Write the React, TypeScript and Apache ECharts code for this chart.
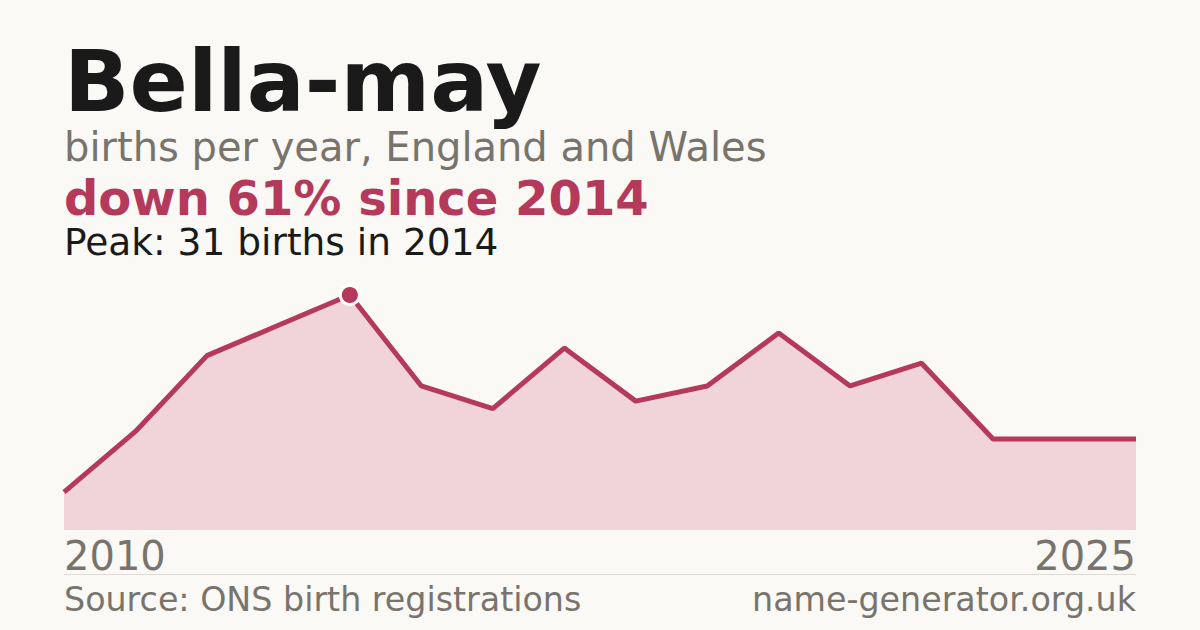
import * as echarts from 'echarts';
import { useEffect, useRef } from 'react';

const years = ['2010', '2011', '2012', '2013', '2014', '2015', '2016', '2017', '2018', '2019', '2020', '2021', '2022', '2023', '2024', '2025'];
const births = [5, 13, 23, 27, 31, 19, 16, 24, 17, 19, 26, 19, 22, 12, 12, 12];

const name = 'Bella-may';
const subtitle = 'births per year, England and Wales';
const source = 'Source: ONS birth registrations';
const site = 'name-generator.org.uk';

const RED = '#b5395a';
const GREY = '#78746d';
const INK = '#1a1a1a';
const FONT = '"DejaVu Sans", sans-serif';

export default function App() {
  const chartRef = useRef<HTMLDivElement>(null);

  useEffect(() => {
    if (!chartRef.current) return;
    const chart = echarts.init(chartRef.current, null, { renderer: 'svg' });

    const peakIdx = births.indexOf(Math.max(...births));
    const peakYear = years[peakIdx];
    const peakVal = births[peakIdx];
    const last = births[births.length - 1];
    const drop = Math.round((1 - last / peakVal) * 100);

    chart.setOption({
      animation: false,
      backgroundColor: '#faf9f5',
      textStyle: { fontFamily: FONT },
      grid: { left: 64, right: 64, top: 295, bottom: 100 },
      xAxis: {
        type: 'category',
        data: years,
        boundaryGap: false,
        axisLine: { show: false },
        axisTick: { show: false },
        splitLine: { show: false },
        axisLabel: {
          interval: 14,
          color: GREY,
          fontSize: 40,
          lineHeight: 40,
          fontFamily: FONT,
          margin: 6,
          alignMinLabel: 'left',
          alignMaxLabel: 'right',
        },
      },
      yAxis: {
        type: 'value',
        min: 0,
        max: peakVal,
        show: false,
      },
      series: [
        {
          type: 'line',
          data: births,
          symbol: 'none',
          lineStyle: { color: RED, width: 5 },
          areaStyle: { color: '#f0d4da', opacity: 1 },
          z: 2,
        },
        {
          type: 'scatter',
          data: [[peakYear, peakVal]],
          symbol: 'circle',
          symbolSize: 19,
          itemStyle: { color: RED, borderColor: '#ffffff', borderWidth: 3, opacity: 1 },
          emphasis: { disabled: true },
          z: 3,
        },
      ],
      graphic: [
        {
          type: 'text',
          left: 64,
          top: 38,
          style: { text: name, fontSize: 86, lineHeight: 86, fontWeight: 'bold', fill: INK, fontFamily: FONT },
        },
        {
          type: 'text',
          left: 64,
          top: 127,
          style: { text: subtitle, fontSize: 40, lineHeight: 40, fill: GREY, fontFamily: FONT },
        },
        {
          type: 'text',
          left: 64,
          top: 174,
          style: { text: `down ${drop}% since ${peakYear}`, fontSize: 48, lineHeight: 48, fontWeight: 'bold', fill: RED, fontFamily: FONT },
        },
        {
          type: 'text',
          left: 64,
          top: 223,
          style: { text: `Peak: ${peakVal} births in ${peakYear}`, fontSize: 37.5, lineHeight: 37.5, fill: INK, fontFamily: FONT },
        },
        {
          type: 'line',
          shape: { x1: 64, y1: 574.5, x2: 1136, y2: 574.5 },
          style: { stroke: '#dedad3', lineWidth: 1 },
        },
        {
          type: 'text',
          left: 64,
          top: 583,
          style: { text: source, fontSize: 33.3, lineHeight: 33.3, fill: GREY, fontFamily: FONT },
        },
        {
          type: 'text',
          right: 64,
          top: 583,
          style: { text: site, fontSize: 33.3, lineHeight: 33.3, fill: GREY, fontFamily: FONT },
        },
      ],
    });

    return () => chart.dispose();
  }, []);

  return <div ref={chartRef} style={{ position: 'fixed', left: 0, top: 0, width: 1200, height: 630 }} />;
}
